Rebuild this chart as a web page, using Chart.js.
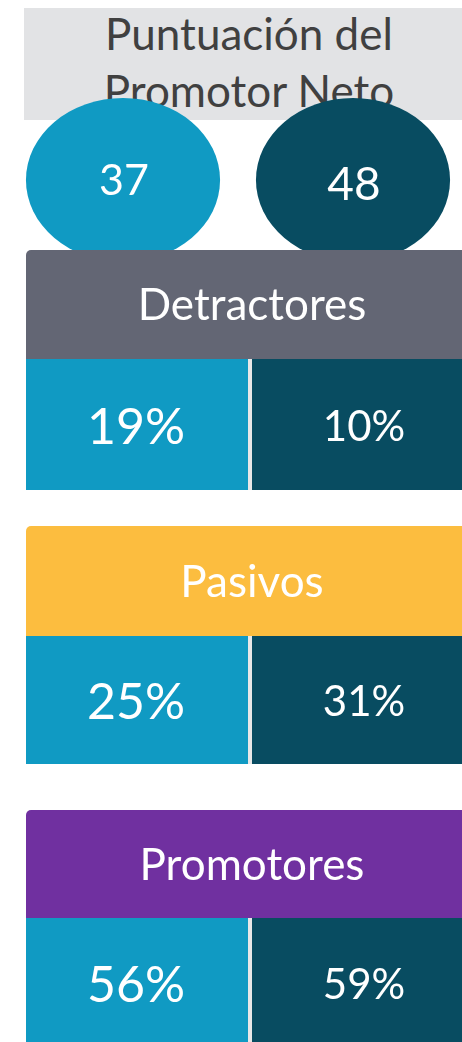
<!DOCTYPE html>
<html lang="es">
<head>
<meta charset="utf-8">
<title>Puntuación del Promotor Neto</title>
<script src="https://cdn.jsdelivr.net/npm/chart.js@4.4.1/dist/chart.umd.min.js"></script>
<style>
  html, body { margin: 0; padding: 0; background: #fff; overflow: hidden; }
  body { width: 462px; height: 1042px; position: relative; font-family: Lato, sans-serif; }
  #titleBox { position: absolute; left: 24px; top: 8px; width: 438px; height: 112px; background: #e2e3e5; }
  #titleText { position: absolute; left: 24px; top: 5px; width: 450px; text-align: center;
               font: 44px/57px Lato, sans-serif; color: #404040; white-space: nowrap; }
  .block { position: absolute; }
</style>
</head>
<body>
<div id="titleBox"></div>
<div id="titleText">Puntuación del<br>Promotor Neto</div>

<div class="block" style="left:8px; top:96px;"><canvas id="scoreChart" width="460" height="168"></canvas></div>
<div class="block" style="left:26px; top:250px;"><canvas id="section0" width="448" height="240"></canvas></div>
<div class="block" style="left:26px; top:526px;"><canvas id="section1" width="448" height="238"></canvas></div>
<div class="block" style="left:26px; top:810px;"><canvas id="section2" width="448" height="238"></canvas></div>

<script>
// Data
const groups = ['Grupo 1', 'Grupo 2'];
const npsScores = [37, 48];
const categories = ['Detractores', 'Pasivos', 'Promotores'];
const detractores = [19, 10];
const pasivos = [25, 31];
const promotores = [56, 59];
const categoryValues = [detractores, pasivos, promotores];

// Styles
const groupColors = ['#109ac3', '#084c61'];
const headerColors = ['#636674', '#fcbd3f', '#7030a0'];
const scoreFontSizes = [43, 46];
const valueFontSizes = [50, 42];
const headerFontSize = 44;
const headerHeights = [109, 110, 108];
const gapColor = '#e8e8e8';

function baseOptions(extraPlugins) {
    return {
        responsive: false,
        animation: false,
        events: [],
        layout: { padding: 0 },
        plugins: Object.assign({
            legend: { display: false },
            tooltip: { enabled: false }
        }, extraPlugins),
        scales: {
            x: { display: false },
            y: { display: false, min: 0, max: 100 }
        }
    };
}

// draws each score as an ellipse centred on its category
const ellipseMarks = {
    id: 'ellipseMarks',
    beforeDatasetDraw(chart, args) {
        const { ctx, chartArea } = chart;
        const values = chart.data.datasets[args.index].data;
        const cy = (chartArea.top + chartArea.bottom) / 2;
        const ry = chartArea.height / 2 - 2;
        args.meta.data.forEach((bar, i) => {
            ctx.save();
            ctx.fillStyle = groupColors[i];
            ctx.beginPath();
            ctx.ellipse(bar.x, cy, bar.width * 0.422, ry, 0, 0, Math.PI * 2);
            ctx.fill();
            const size = scoreFontSizes[i];
            ctx.fillStyle = '#ffffff';
            ctx.font = size + 'px Lato';
            ctx.textAlign = 'center';
            ctx.textBaseline = 'alphabetic';
            ctx.fillText(String(values[i]), bar.x + 1, cy + 0.36 * size + i * 3);
            ctx.restore();
        });
        return false;
    }
};

// header band + one cell per group for each category
const npsCells = {
    id: 'npsCells',
    beforeDraw(chart, args, opts) {
        const { ctx, chartArea } = chart;
        const s = opts.section;
        const h = headerHeights[s];
        ctx.save();
        ctx.fillStyle = headerColors[s];
        ctx.beginPath();
        ctx.roundRect(chartArea.left, chartArea.top, chartArea.width, h, [5, 5, 0, 0]);
        ctx.fill();
        ctx.fillStyle = '#ffffff';
        ctx.font = headerFontSize + 'px Lato';
        ctx.textAlign = 'center';
        ctx.fillText(categories[s], chartArea.left + chartArea.width / 2 + 2,
                     chartArea.top + h / 2 + 0.36 * headerFontSize);
        ctx.restore();
    },
    beforeDatasetDraw(chart, args, opts) {
        const { ctx, chartArea } = chart;
        const s = opts.section;
        const top = chartArea.top + headerHeights[s];
        const bottom = chartArea.bottom;
        const values = chart.data.datasets[args.index].data;
        const bars = args.meta.data;
        ctx.save();
        bars.forEach((bar, i) => {
            ctx.fillStyle = groupColors[i];
            ctx.fillRect(bar.x - bar.width / 2, top, bar.width, bottom - top);
        });
        // separator between the two groups
        const sep = (bars[0].x + bars[1].x) / 2;
        ctx.fillStyle = gapColor;
        ctx.fillRect(sep - 2, top, 4, bottom - top);
        bars.forEach((bar, i) => {
            const size = valueFontSizes[i];
            const cx = i === 0 ? bar.x - 2 : bar.x + 2;
            ctx.fillStyle = '#ffffff';
            ctx.font = size + 'px Lato';
            ctx.textAlign = 'center';
            ctx.fillText(values[i] + '%', cx, (top + bottom) / 2 + 0.36 * size + 1);
        });
        ctx.restore();
        return false;
    }
};

new Chart(document.getElementById('scoreChart'), {
    type: 'bar',
    data: {
        labels: groups,
        datasets: [{ label: 'NPS', data: npsScores, backgroundColor: groupColors,
                     barPercentage: 1, categoryPercentage: 1 }]
    },
    options: baseOptions({}),
    plugins: [ellipseMarks]
});

categories.forEach((name, s) => {
    new Chart(document.getElementById('section' + s), {
        type: 'bar',
        data: {
            labels: groups,
            datasets: [{ label: name, data: categoryValues[s], backgroundColor: groupColors,
                         barPercentage: 1, categoryPercentage: 1 }]
        },
        options: baseOptions({ npsCells: { section: s } }),
        plugins: [npsCells]
    });
});
</script>
</body>
</html>
